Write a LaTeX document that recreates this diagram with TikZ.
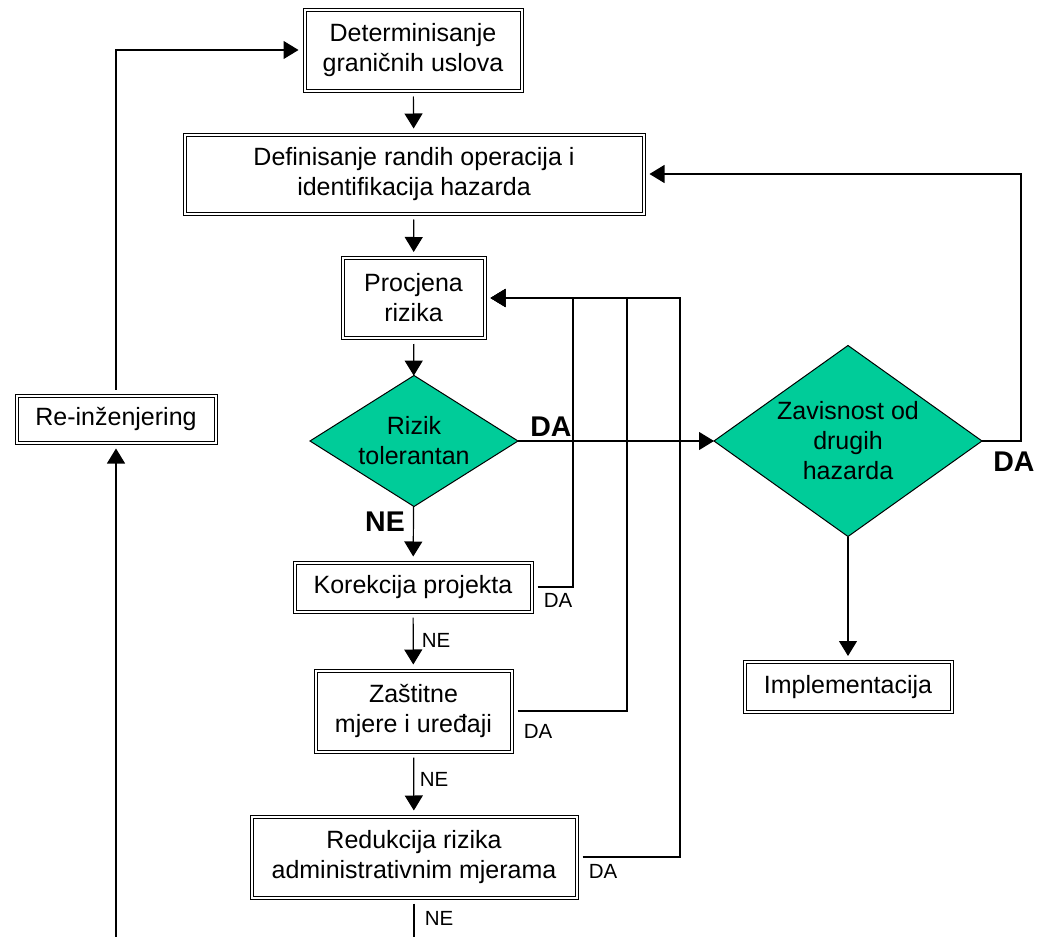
\documentclass[tikz,border=0pt]{standalone}
\usepackage{fontspec}
\setmainfont{Liberation Sans}
\usetikzlibrary{shapes.geometric,arrows.meta}
\definecolor{tealgreen}{RGB}{0,204,153}
\newcommand\txtfont{\fontsize{12.5}{15}\selectfont}
\newcommand\lblfont{\fontsize{10.25}{12}\selectfont}
\newcommand\blfont{\fontsize{14.25}{16}\selectfont\bfseries}
\tikzset{
  box/.style={draw, double, double distance=1pt, line width=0.5pt, align=center, inner sep=0pt, outer sep=3pt, font=\txtfont},
  decision/.style={diamond, draw, fill=tealgreen, line width=0.5pt, align=center, inner sep=0pt, outer sep=0pt, font=\txtfont},
  conn/.style={line width=0.6pt},
  lbl/.style={inner sep=0pt, font=\lblfont},
  bigl/.style={inner sep=0pt, font=\blfont}
}
\begin{document}
\begin{tikzpicture}[x=0.5pt,y=0.5pt,yscale=-1,xscale=1,>={Triangle[length=7.5pt,width=9pt]}]
\useasboundingbox (0,0) rectangle (1041,937);

%Shape: Rectangle [det]
\node[box, minimum width=108.5pt, minimum height=40.5pt] (det) at (413,50) {Determinisanje\\graničnih uslova};
%Shape: Rectangle [def]
\node[box, minimum width=229.5pt, minimum height=39.5pt] (def) at (414,174) {Definisanje randih operacija i\\identifikacija hazarda};
%Shape: Rectangle [proc]
\node[box, minimum width=71pt, minimum height=40pt] (proc) at (413.5,298) {Procjena\\rizika};
%Shape: Diamond [riz]
\node[decision, shape aspect=1.59, minimum width=104pt, minimum height=65.5pt] (riz) at (414,441) {Rizik\\tolerantan};
%Shape: Rectangle [kor]
\node[box, minimum width=118.5pt, minimum height=24.5pt] (kor) at (413,587) {Korekcija projekta};
%Shape: Rectangle [zas]
\node[box, minimum width=98pt, minimum height=40.5pt] (zas) at (413.5,711) {Zaštitne\\mjere i uređaji};
%Shape: Rectangle [red]
\node[box, minimum width=162.5pt, minimum height=40.5pt] (red) at (414,857) {Redukcija rizika\\administrativnim mjerama};
%Shape: Rectangle [reinz]
\node[box, minimum width=99.5pt, minimum height=23.5pt] (reinz) at (116,419) {Re-inženjering};
%Shape: Diamond [zav]
\node[decision, shape aspect=1.4, minimum width=134pt, minimum height=95.5pt] (zav) at (848,441) {Zavisnost od\\drugih\\hazarda};
%Shape: Rectangle [impl]
\node[box, minimum width=103.5pt, minimum height=25pt] (impl) at (848,687) {Implementacija};

%Corners of the return lines
\coordinate (fb1) at (573,298);
\coordinate (fb2) at (627,298);
\coordinate (fb3) at (680,298);
\coordinate (ret) at (1021,174);
\coordinate (bl) at (116,937);
\coordinate (br) at (414,937);

%Straight Lines [main flow]
\draw[conn,->] (det) -- (def);
\draw[conn,->] (def) -- (proc);
\draw[conn,->] (proc) -- (riz);
\draw[conn,->] (riz) -- (kor);
\draw[conn,->] (kor) -- (zas);
\draw[conn,->] (zas) -- (red);
\draw[conn] (red.south) -- (br);
\draw[conn,->] (riz.east) -- (zav.west);
\draw[conn,->] (zav) -- (impl);

%Straight Lines [return lines]
\draw[conn,->] (red.east) -| (fb3) -- (proc.east);
\draw[conn,->] (zas.east) -| (fb2) -- (proc.east);
\draw[conn,->] (kor.east) -| (fb1) -- (proc.east);
\draw[conn,->] (zav.east) -| (ret) -- (def.east);
\draw[conn,->] (bl) -- (reinz.south);
\draw[conn,->] (reinz.north) |- (det.west);

%Text labels
\node[bigl] (da1) at (551,427) {DA};
\node[bigl] (ne1) at (385,522) {NE};
\node[bigl] (da2) at (1014,462) {DA};
\node[lbl] (da3) at (558,600) {DA};
\node[lbl] (da4) at (538,731) {DA};
\node[lbl] (da5) at (603,871) {DA};
\node[lbl] (ne2) at (436,640) {NE};
\node[lbl] (ne3) at (434,779) {NE};
\node[lbl] (ne4) at (439,918) {NE};

\end{tikzpicture}
\end{document}
